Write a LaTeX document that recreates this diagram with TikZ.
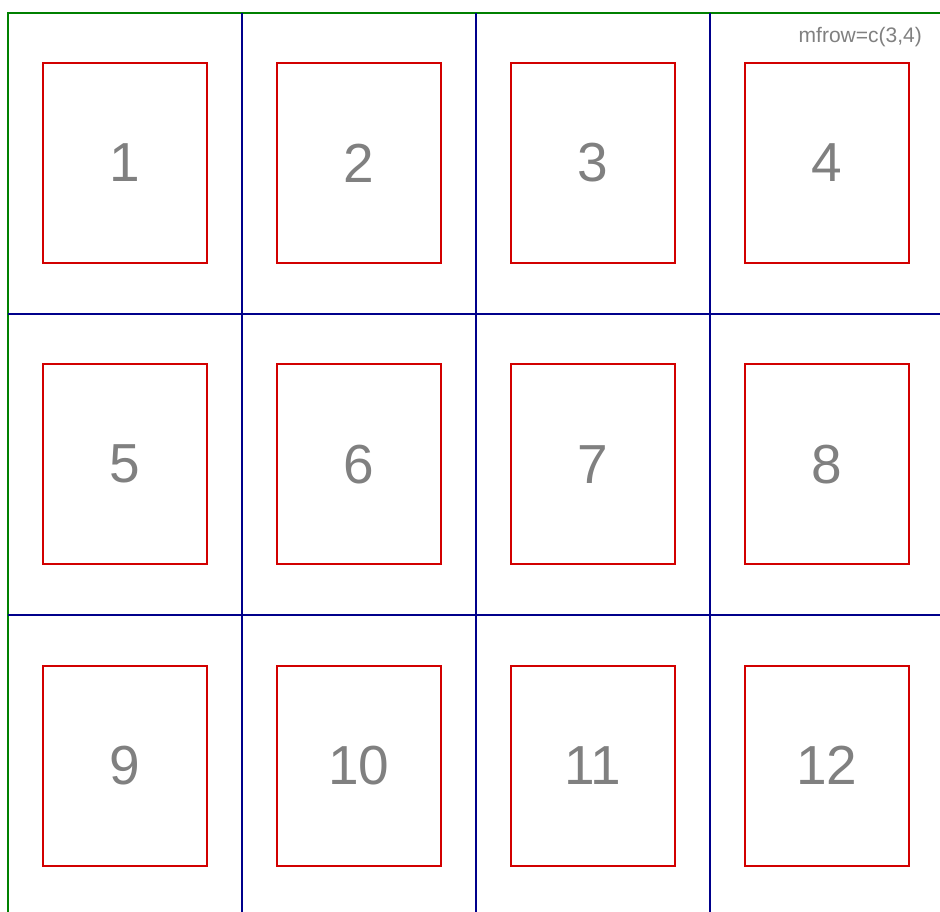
\documentclass[tikz,border=0pt]{standalone}
\usepackage{fontspec}
\setmainfont{Liberation Sans}
\definecolor{frameg}{RGB}{0,128,0}
\definecolor{gridb}{RGB}{0,0,139}
\definecolor{boxr}{RGB}{210,0,0}
\definecolor{numg}{RGB}{128,128,128}
\begin{document}
\begin{tikzpicture}[x=1pt,y=-1pt,
  panel/.style={draw=boxr,line width=2pt,minimum width=164pt,minimum height=200pt,inner sep=0pt,
    text=numg,font=\fontsize{55}{55}\selectfont},
  gridline/.style={draw=gridb,line width=2pt},
  outerframe/.style={draw=frameg,line width=2.4pt}]
\useasboundingbox (0,0) rectangle (940,912);
\fill[white] (0,0) rectangle (940,912);
\begin{scope}
\clip (0,0) rectangle (940,912);
\draw[outerframe] (8,13) rectangle (944,917);
\foreach \x in {242,476,710} \draw[gridline] (\x,13) -- (\x,917);
\foreach \y in {314,615} \draw[gridline] (8,\y) -- (944,\y);
\end{scope}
\foreach \n [count=\i from 0] in {1,...,12}{
  \pgfmathtruncatemacro{\c}{mod(\i,4)}
  \pgfmathtruncatemacro{\r}{div(\i,4)}
  \node[panel] (p\n) at ({125+234*\c},{163+301.3*\r}) {\n};
}
\node[text=numg,font=\fontsize{21}{21}\selectfont,anchor=east,inner sep=0pt] (lab) at (922,37) {mfrow=c(3,4)};
\end{tikzpicture}
\end{document}
